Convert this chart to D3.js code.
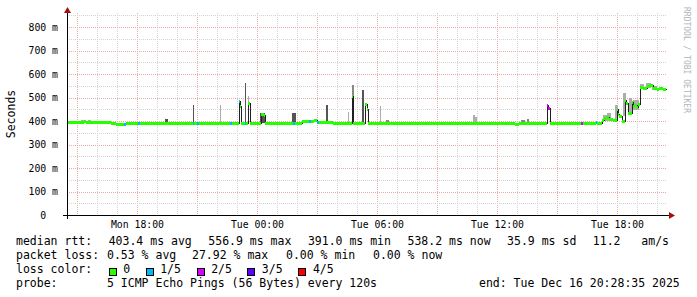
<!DOCTYPE html>
<html>
<head>
<meta charset="utf-8">
<script src="https://cdn.jsdelivr.net/npm/d3@7"></script>
<style>
  body { margin: 0; background: #fff; }
  svg text { font-family: "DejaVu Sans Mono", monospace; white-space: pre; }
</style>
</head>
<body>
<svg id="chart" width="697" height="297"></svg>
<script>
// hours are counted from Mon Dec 15 2025 00:00
var medianSteps = [ // [hour, median ms, lost pings]
  [14.48, 395, 0], [15.18, 397, 0], [15.33, 400, 0], [15.43, 396, 0],
  [16.68, 393, 0], [16.93, 389, 0], [17.33, 389, 1], [17.43, 390, 0],
  [17.73, 391, 0], [18.03, 391, 1], [18.13, 391, 0], [20.78, 391, 1],
  [20.83, 391, 0], [20.98, 391, 1], [21.08, 391, 0], [22.63, 391, 1],
  [22.73, 391, 0], [23.08, 486, 1], [23.15, 462, 0], [23.2, 391, 0],
  [23.38, 391, 1], [23.45, 391, 0], [23.53, 478, 0], [23.63, 391, 0],
  [24.18, 430, 0], [24.33, 424, 0], [24.38, 391, 0], [25.78, 391, 1],
  [25.88, 391, 0], [26.23, 398, 0], [26.58, 402, 1], [26.68, 400, 0],
  [26.83, 405, 0], [26.98, 397, 1], [27.08, 394, 0], [27.78, 391, 0],
  [28.73, 508, 0], [28.78, 391, 0], [29.38, 471, 0], [29.48, 453, 0],
  [29.53, 391, 0], [36.9, 389, 0], [37.1, 391, 0], [38.48, 468, 2],
  [38.55, 454, 2], [38.63, 391, 0], [40.18, 391, 2], [40.28, 391, 0],
  [40.93, 396, 1], [40.98, 392, 0], [41.21, 404, 0], [41.31, 412, 0],
  [41.46, 416, 0], [41.6, 410, 0], [41.79, 404, 0], [41.96, 450, 0],
  [42.01, 428, 0], [42.1, 420, 0], [42.21, 398, 0], [42.38, 490, 0],
  [42.45, 478, 0], [42.54, 436, 0], [42.71, 480, 0], [42.78, 465, 0],
  [42.88, 470, 0], [42.98, 458, 0], [43.05, 474, 0], [43.13, 546, 0],
  [43.3, 542, 0], [43.49, 550, 0], [43.6, 554, 0], [43.76, 540, 0],
  [43.96, 536, 0], [44.1, 540, 0], [44.3, 538, 0]
];
var medianEnd = 44.43;

var smokeBars = [ // [from hour, to hour, low ms, high ms, shade]
  [15.18, 15.33, 394, 406, 'l'], [15.53, 15.68, 394, 403, 'l'],
  [19.38, 19.53, 391, 410, 'd'], [20.78, 20.83, 391, 468, 'd'],
  [22.13, 22.18, 391, 468, 'l'], [23.38, 23.43, 391, 560, 'd'],
  [23.53, 23.58, 478, 506, 'l'], [24.13, 24.38, 391, 432, 'd'],
  [25.73, 25.93, 391, 433, 'd'], [26.33, 26.43, 395, 406, 'l'],
  [27.43, 27.53, 391, 468, 'd'], [28.53, 28.58, 391, 440, 'l'],
  [28.73, 28.83, 391, 553, 'm'], [29.23, 29.33, 391, 532, 'd'],
  [30.13, 30.18, 391, 464, 'l'], [30.43, 30.58, 391, 405, 'm'],
  [34.78, 34.88, 391, 425, 'l'], [34.88, 34.98, 391, 418, 'l'],
  [37.18, 37.38, 391, 405, 'm'], [37.48, 37.58, 391, 409, 'm'],
  [41.3, 41.5, 398, 425, 'l'], [41.5, 41.7, 400, 434, 'l'],
  [41.9, 42.05, 405, 468, 'l'], [42.3, 42.45, 420, 518, 'l'],
  [42.6, 42.75, 440, 500, 'l'], [42.8, 43.1, 445, 490, 'l'],
  [43.15, 43.35, 538, 556, 'l'], [43.45, 43.7, 540, 560, 'l'],
  [43.75, 44.0, 532, 548, 'l'], [44.1, 44.3, 535, 545, 'l']
];

var yTicks = [0, 100, 200, 300, 400, 500, 600, 700, 800];
var lossLabels = ['0', '1/5', '2/5', '3/5', '4/5'];
var lossColors = ['#26ff00', '#00b8ff', '#dd00ff', '#5e00ff', '#ff0000'];
var rttLine = ['median rtt:', '403.4 ms avg', '556.9 ms max', '391.0 ms min', '538.2 ms now', '35.9 ms sd', '11.2   am/s'];
var lossLine = ['packet loss:', '0.53 % avg', '27.92 % max', '0.00 % min', '0.00 % now'];
var probeLine = ['probe:', '5 ICMP Echo Pings (56 Bytes) every 120s', 'end: Tue Dec 16 20:28:35 2025'];

var svg = d3.select('#chart');
var X0 = 67, X1 = 667, Y0 = 13, Y1 = 215;

svg.append('rect').attr('width', 697).attr('height', 297).attr('fill', '#fff');

var day0 = new Date(2025, 11, 15);
function atHour(h) { return new Date(day0.getTime() + h * 3600e3); }
var endTime = atHour(44 + 28 / 60 + 35 / 3600);
var startTime = new Date(endTime.getTime() - 30 * 3600e3);

var x = d3.scaleTime().domain([startTime, endTime]).range([X0, X1]);
var y = d3.scaleLinear().domain([0, 859.6]).range([Y1, Y0]);

// grid
var grid = svg.append('g').attr('stroke-dasharray', '1,1').attr('shape-rendering', 'crispEdges');
var hours = d3.timeHour.range(d3.timeHour.ceil(startTime), endTime);
hours.forEach(function(t) {
  var px = Math.round(x(t)) + 0.5;
  grid.append('line')
    .attr('x1', px).attr('x2', px).attr('y1', Y0).attr('y2', Y1)
    .attr('stroke', t.getHours() % 3 === 0 ? '#eeaaaa' : '#d4d4d4');
});
d3.range(50, 851, 50).forEach(function(v) {
  var py = Math.round(y(v)) + 0.5;
  grid.append('line')
    .attr('x1', X0).attr('x2', X1).attr('y1', py).attr('y2', py)
    .attr('stroke', v % 100 === 0 ? '#eeaaaa' : '#d4d4d4');
});

// smoke
var shade = { d: '#555555', m: '#888888', l: '#adadad' };
svg.append('g').attr('shape-rendering', 'crispEdges')
  .selectAll('rect').data(smokeBars).enter().append('rect')
  .attr('x', function(d) { return Math.round(x(atHour(d[0]))); })
  .attr('width', function(d) { return Math.max(1, Math.round(x(atHour(d[1])) - x(atHour(d[0])))); })
  .attr('y', function(d) { return Math.round(y(d[3])); })
  .attr('height', function(d) { return Math.round(y(d[2])) - Math.round(y(d[3])); })
  .attr('fill', function(d) { return shade[d[4]]; });

// black median line
var lineData = medianSteps.concat([[medianEnd, medianSteps[medianSteps.length - 1][1], 0]]);
svg.append('path')
  .attr('d', d3.line()
    .x(function(d) { return Math.round(x(atHour(d[0]))) + 0.5; })
    .y(function(d) { return Math.round(y(d[1])) + 0.5; })
    .curve(d3.curveStepAfter)(lineData))
  .attr('fill', 'none').attr('stroke', '#202020').attr('stroke-width', 1)
  .attr('shape-rendering', 'crispEdges');

// loss coloured median band
svg.append('g').attr('shape-rendering', 'crispEdges')
  .selectAll('rect').data(medianSteps).enter().append('rect')
  .attr('x', function(d) { return Math.round(x(atHour(d[0]))); })
  .attr('width', function(d, i) {
    var next = i + 1 < medianSteps.length ? medianSteps[i + 1][0] : medianEnd;
    return Math.max(1, Math.round(x(atHour(next))) - Math.round(x(atHour(d[0]))));
  })
  .attr('y', function(d) { return Math.round(y(d[1])) - 1; })
  .attr('height', 3)
  .attr('fill', function(d) { return lossColors[d[2]]; });

// axes
var axis = svg.append('g').attr('shape-rendering', 'crispEdges');
axis.append('line').attr('x1', 63).attr('x2', 670).attr('y1', Y1 + 0.5).attr('y2', Y1 + 0.5).attr('stroke', '#000');
axis.append('line').attr('x1', X0 + 0.5).attr('x2', X0 + 0.5).attr('y1', Y1 + 4).attr('y2', 10).attr('stroke', '#000');
svg.append('polygon').attr('points', '669,212 669,219 675,215.5').attr('fill', '#a01010');
svg.append('polygon').attr('points', '64,13 71,13 67.5,7').attr('fill', '#a01010');

// tick labels
var fmt = d3.timeFormat('%a %H:%M');
svg.append('g').selectAll('text')
  .data(hours.filter(function(t) { return t.getHours() % 6 === 0; }))
  .enter().append('text')
  .attr('x', function(t) { return x(t); })
  .attr('y', 228)
  .attr('text-anchor', 'middle')
  .attr('font-size', '9.8px')
  .attr('fill', '#000')
  .text(fmt);

var cw = 9.8 * 0.602;
svg.append('g').selectAll('text')
  .data(yTicks).enter().append('text')
  .attr('x', function(v) { return v === 0 ? 58 - 2 * cw : 58; })
  .attr('y', function(v) { return y(v) + 3.5; })
  .attr('text-anchor', 'end')
  .attr('font-size', '9.8px')
  .attr('fill', '#000')
  .text(function(v) { return v === 0 ? '0' : v + ' m'; });

svg.append('text')
  .attr('transform', 'translate(15,' + ((Y0 + Y1) / 2) + ') rotate(-90)')
  .attr('text-anchor', 'middle')
  .attr('font-size', '11.5px')
  .attr('fill', '#000')
  .text('Seconds');

svg.append('text')
  .attr('transform', 'translate(684,7) rotate(90)')
  .attr('font-size', '8px')
  .attr('fill', '#b4b4b4')
  .text('RRDTOOL / TOBI OETIKER');

// legend
var lw = 11.5 * 0.602;
var legend = svg.append('g').attr('font-size', '11.5px').attr('fill', '#000');

// first row is justified across the width
var chars = d3.sum(rttLine, function(s) { return s.length; });
var gap = (669 - 16 - chars * lw) / (rttLine.length - 1);
var pos = 16;
rttLine.forEach(function(s) {
  legend.append('text').attr('x', pos).attr('y', 245).text(s);
  pos += s.length * lw + gap;
});

var lossX = [16, 107, 192, 286, 373];
lossLine.forEach(function(s, i) {
  legend.append('text').attr('x', lossX[i]).attr('y', 259).text(s);
});

legend.append('text').attr('x', 16).attr('y', 273).text('loss color:');
var boxX = [108.7, 145.7, 196.7, 247.3, 298.4];
lossLabels.forEach(function(s, i) {
  legend.append('rect')
    .attr('x', Math.round(boxX[i]) + 0.5).attr('y', 268.5)
    .attr('width', 7).attr('height', 7)
    .attr('fill', lossColors[i]).attr('stroke', '#000').attr('stroke-width', 1)
    .attr('shape-rendering', 'crispEdges');
  legend.append('text').attr('x', boxX[i] + 14.5).attr('y', 273).text(s);
});

var probeX = [16, 107, 479];
probeLine.forEach(function(s, i) {
  legend.append('text').attr('x', probeX[i]).attr('y', 287).text(s);
});
</script>
</body>
</html>
